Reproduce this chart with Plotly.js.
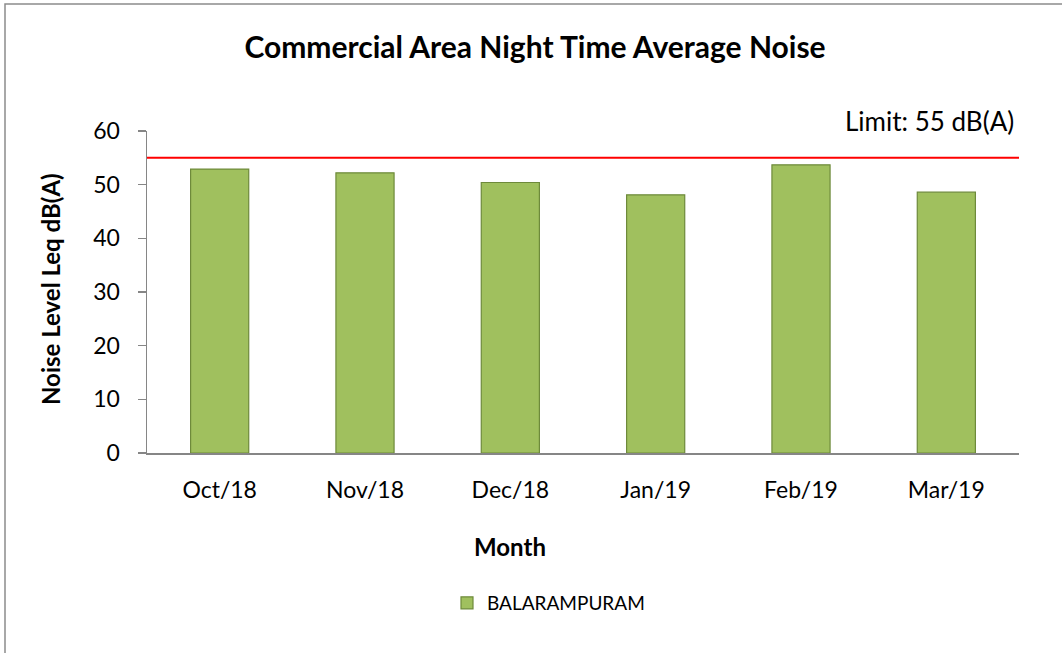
<!DOCTYPE html>
<html>
<head>
<meta charset="utf-8">
<script src="https://cdn.plot.ly/plotly-3.0.1.min.js"></script>
<style>
html,body{margin:0;padding:0;background:#fff;}
#chart{width:1062px;height:653px;}
</style>
</head>
<body>
<div id="chart"></div>
<script>
const months = ["Oct/18", "Nov/18", "Dec/18", "Jan/19", "Feb/19", "Mar/19"];
const balarampuram = [52.9, 52.2, 50.4, 48.1, 53.7, 48.6];
const seriesName = "BALARAMPURAM";
const limitValue = 55;
const limitLabel = "Limit: 55 dB(A)";
const yTicks = [0, 10, 20, 30, 40, 50, 60];

const W = 1062, H = 653;
const L = 147, R = 43, T = 131, B = 200;
const pw = W - L - R, ph = H - T - B;
const px = x => (x - L) / pw;
const py = y => (H - B - y) / ph;

const FONT = "Lato, 'Open Sans', sans-serif";

const traces = [{
  type: "bar",
  x: months,
  y: balarampuram,
  name: seriesName,
  marker: {color: "#a0c05e", line: {color: "#6e8a3b", width: 1.2}},
  width: 0.4,
  hoverinfo: "x+y"
}];

const layout = {
  width: W, height: H,
  margin: {l: L, r: R, t: T, b: B, pad: 0},
  paper_bgcolor: "#ffffff",
  plot_bgcolor: "#ffffff",
  font: {family: FONT, color: "#000", size: 18},
  title: {
    text: "<b>Commercial Area Night Time Average Noise</b>",
    font: {family: FONT, size: 30, color: "#000"},
    x: 535 / W, xref: "container", xanchor: "center",
    y: 1 - 47 / H, yref: "container", yanchor: "middle"
  },
  showlegend: true,
  legend: {
    orientation: "h",
    x: px(447), xanchor: "left",
    y: py(603), yanchor: "middle",
    font: {family: FONT, size: 19, color: "#000"},
    itemwidth: 30,
    tracegroupgap: 0
  },
  xaxis: {
    type: "category",
    showline: true, linecolor: "#868686", linewidth: 1.5,
    ticks: "", showgrid: false, zeroline: false,
    tickfont: {family: FONT, size: 23, color: "#000"},
    ticklabelstandoff: 16
  },
  yaxis: {
    range: [0, 60],
    tickvals: yTicks,
    showline: true, linecolor: "#868686", linewidth: 1.5,
    ticks: "outside", ticklen: 8, tickcolor: "#868686", tickwidth: 1.5,
    showgrid: false, zeroline: false,
    tickfont: {family: FONT, size: 23, color: "#000"},
    ticklabelstandoff: 13
  },
  bargap: 0.6,
  shapes: [
    {type: "line", xref: "paper", yref: "y", x0: 0, x1: 1, y0: limitValue, y1: limitValue,
     line: {color: "#ff0000", width: 2}},
    {type: "path", xref: "paper", yref: "paper",
     path: `M ${px(5)} ${py(H)} L ${px(5)} ${py(4)} L ${px(W)} ${py(4)}`,
     line: {color: "#8c8c8c", width: 1.5}}
  ],
  annotations: [
    {text: limitLabel, xref: "paper", yref: "paper", x: px(1016), y: py(121),
     xanchor: "right", yanchor: "middle", showarrow: false,
     font: {family: FONT, size: 26, color: "#000"}},
    {text: "<b>Noise Level Leq dB(A)</b>", xref: "paper", yref: "paper", x: px(50), y: py(289),
     xanchor: "center", yanchor: "middle", textangle: -90, showarrow: false,
     font: {family: FONT, size: 24, color: "#000"}},
    {text: "<b>Month</b>", xref: "paper", yref: "paper", x: px(510), y: py(546),
     xanchor: "center", yanchor: "middle", showarrow: false,
     font: {family: FONT, size: 24, color: "#000"}}
  ]
};

Plotly.newPlot("chart", traces, layout, {displayModeBar: false, staticPlot: true});
</script>
</body>
</html>
